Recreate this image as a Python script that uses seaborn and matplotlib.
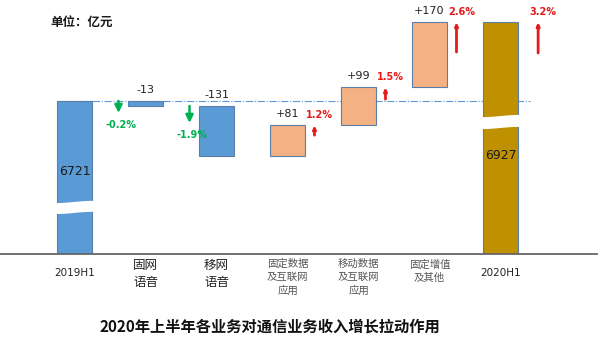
import numpy as np
import pandas as pd
import matplotlib
matplotlib.use('Agg')
import matplotlib.pyplot as plt
from matplotlib import transforms
import seaborn as sns

# ---------------- data ----------------
categories = ['2019H1', '固网\n语音', '移网\n语音', '固定数据\n及互联网\n应用',
              '移动数据\n及互联网\n应用', '固定增值\n及其他', '2020H1']
values = [6721, -13, -131, 81, 99, 170, 6927]
pct_values = [None, -0.2, -1.9, 1.2, 1.5, 2.6, 3.2]
unit_label = '单位：亿元'
title = '2020年上半年各业务对通信业务收入增长拉动作用'

# ---------------- style ----------------
sns.set_style('white')
plt.rcParams['font.family'] = ['Noto Sans CJK SC', 'DejaVu Sans']

BLUE = '#5B9BD5'
ORANGE = '#F4B183'
GOLD = '#BF9000'
EDGE = '#5A7EA8'
GREEN = '#00B050'
RED = '#E41A1C'

n = len(values)
bottoms, heights, tops, prevs, news, colors = [], [], [], [], [], []
level = 0
for i, v in enumerate(values):
    if i in (0, n - 1):
        prev, new = v, v
        bottoms.append(0)
        heights.append(v)
        colors.append(BLUE if i == 0 else GOLD)
    else:
        prev, new = level, level + v
        bottoms.append(min(prev, new))
        heights.append(abs(v))
        colors.append(BLUE if v < 0 else ORANGE)
    level = new
    prevs.append(prev)
    news.append(new)
    tops.append(max(prev, new))

df = pd.DataFrame({'cat': categories, 'height': heights})

fig = plt.figure(figsize=(6, 3.46), dpi=100)
ax = fig.add_axes([0, 0.2659, 0.995, 0.7197])

sns.barplot(data=df, x='cat', y='height', order=categories,
            bottom=np.array(bottoms), width=0.493, color=BLUE, saturation=1,
            edgecolor=EDGE, linewidth=0.8, errorbar=None, ax=ax, zorder=2)
for p, c in zip(ax.patches, colors):
    p.set_facecolor(c)

ax.set_xlim(-1.049, 7.359)
ax.set_ylim(6322, 6971.4)
ax.set_xticks([])
ax.set_yticks([])
ax.set_xlabel('')
ax.set_ylabel('')
for s in ['left', 'right', 'top']:
    ax.spines[s].set_visible(False)
ax.spines['bottom'].set_color('#666666')
ax.spines['bottom'].set_linewidth(1.3)

# reference dash-dot line at starting level
ax.plot([-0.2465, n - 1 + 0.2465 + 0.17], [values[0], values[0]],
        ls='-.', color=BLUE, lw=0.8, zorder=1)

trans = transforms.blended_transform_factory(ax.transData, ax.transAxes)

# axis-break bands on the total bars
for idx, fc, hh in [(0, 0.187, 0.022), (n - 1, 0.530, 0.024)]:
    t = np.linspace(0, 1, 60)
    xs = idx - 0.27 + 0.54 * t
    off = 0.0045 * np.sin(np.pi * (t - 0.5))
    top = fc + hh + off
    bot = fc - hh + off
    ax.fill(np.r_[xs, xs[::-1]], np.r_[top, bot[::-1]], color='white',
            transform=trans, zorder=3, lw=0)

# totals labels inside bars
ax.text(0, 0.333, f'{values[0]}', transform=trans, ha='center', va='center',
        fontsize=9, color='#1a1a1a', family='DejaVu Sans', zorder=4)
ax.text(n - 1, 0.394, f'{values[-1]}', transform=trans, ha='center', va='center',
        fontsize=9, color='#1a1a1a', family='DejaVu Sans', zorder=4)

# delta labels
for i in range(1, n - 1):
    ax.annotate(f'{values[i]:+d}', xy=(i, tops[i]), xytext=(0, 8),
                textcoords='offset points', ha='center', va='center',
                fontsize=8, family='DejaVu Sans', color='#222222')

# percentage arrows
arrow_dx = [None, -0.38, -0.38, 0.38, 0.38, 0.38, 0.53]
arrow_len_px = [None, 12, 17, 10, 12, 30, 31]
PT = 0.72
for i in range(1, n):
    pv = pct_values[i]
    x = i + arrow_dx[i]
    L = arrow_len_px[i] * PT
    lab = f'{pv:.1f}%'
    if pv < 0:
        anchor = prevs[i]
        ax.annotate('', xy=(x, anchor), xytext=(0, -L), textcoords='offset points',
                    arrowprops=dict(arrowstyle='<|-,head_length=0.45,head_width=0.22',
                                    color=GREEN, lw=1.8, shrinkA=0, shrinkB=0))
        ax.annotate(lab, xy=(x, anchor), xytext=(2, -L - 12 * PT),
                    textcoords='offset points', ha='center', va='center',
                    fontsize=7, fontweight='bold', color=GREEN, family='DejaVu Sans')
    else:
        anchor = news[i]
        ax.annotate('', xy=(x, anchor), xytext=(0, -L), textcoords='offset points',
                    arrowprops=dict(arrowstyle='-|>,head_length=0.18,head_width=0.08',
                                    color=RED, lw=2.0, shrinkA=0, shrinkB=0))
        ax.annotate(lab, xy=(x, anchor), xytext=(5 * PT, 10 * PT),
                    textcoords='offset points', ha='center', va='center',
                    fontsize=7, fontweight='bold', color=RED, family='DejaVu Sans')

# category labels
for i, cat in enumerate(categories):
    if i in (0, n - 1):
        ax.text(i, -0.076, cat, transform=trans, ha='center', va='center',
                fontsize=7.5, color='#222222', family='DejaVu Sans')
    elif cat.count('\n') == 1 and len(cat) <= 5:
        ax.text(i, -0.02, cat, transform=trans, ha='center', va='top',
                fontsize=9, color='#222222', linespacing=1.4)
    else:
        ax.text(i, -0.02, cat, transform=trans, ha='center', va='top',
                fontsize=7.5, color='#555555', linespacing=1.4)

fig.text(50 / 600, 1 - 22 / 346, unit_label, ha='left', va='center',
         fontsize=9, fontweight='bold', color='#1a1a1a')
fig.text(0.45, 1 - 327 / 346, title, ha='center', va='center',
         fontsize=11, fontweight='bold', color='#111111')

fig.savefig('out.png', dpi=100)
